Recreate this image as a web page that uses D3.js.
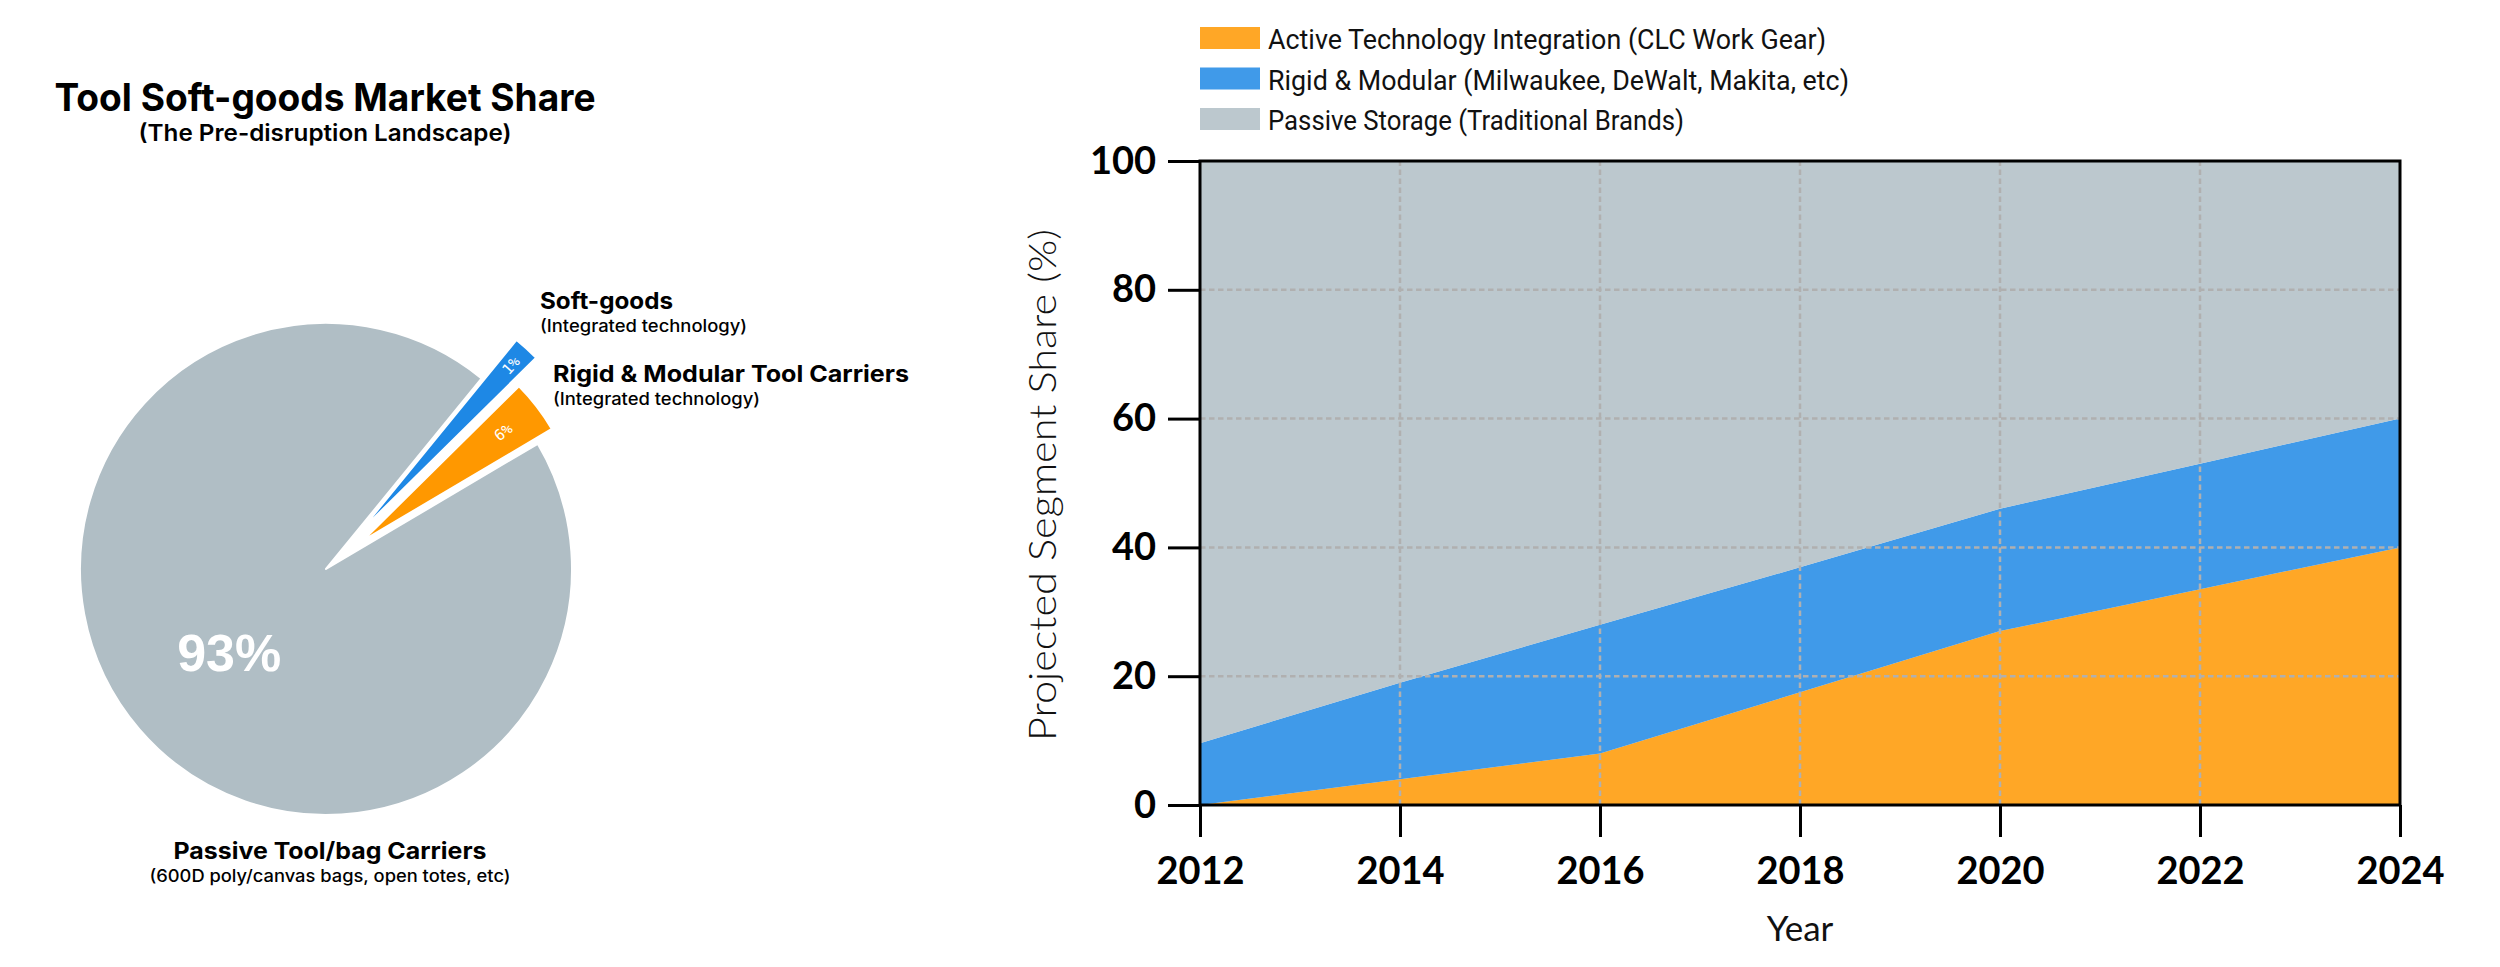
<!DOCTYPE html>
<html>
<head>
<meta charset="utf-8">
<script src="https://cdn.jsdelivr.net/npm/d3@7"></script>
<style>
  body { margin: 0; background: #fff; }
  svg { display: block; }
</style>
</head>
<body>
<script>
// pie (left)
var pieCategories = ['Passive Tool/bag Carriers', 'Soft-goods', 'Rigid & Modular Tool Carriers'];
var pieNotes = ['(600D poly/canvas bags, open totes, etc)', '(Integrated technology)', '(Integrated technology)'];
var pieShares = [94.4, 1.7, 3.9];          // wedge sizes as drawn
var pieLabels = ['93%', '1%', '6%'];       // printed percentages
var pieColors = ['#b0bec5', '#1e88e5', '#ff9800'];

// stacked area (right)
var years = [2012, 2014, 2016, 2018, 2020, 2022, 2024];
var activeShare = [0, 4, 8, 17.5, 27, 33.5, 40];
var rigidShare = [9.6, 15, 20, 19.4, 19, 19.5, 20];
var passiveShare = years.map(function(d, i) { return 100 - activeShare[i] - rigidShare[i]; });
var seriesKeys = ['active', 'rigid', 'passive'];
var seriesNames = ['Active Technology Integration (CLC Work Gear)',
                   'Rigid & Modular (Milwaukee, DeWalt, Makita, etc)',
                   'Passive Storage (Traditional Brands)'];
var seriesColors = ['#ff9800', '#1e88e5', '#b0bec5'];
var yTicks = [0, 20, 40, 60, 80, 100];
var xTicks = [2012, 2014, 2016, 2018, 2020, 2022, 2024];

var W = 2500, H = 967;
var svg = d3.select('body').append('svg')
    .attr('width', W)
    .attr('height', H);

var deg = Math.PI / 180;

// ---------- pie ----------
var cx = 326, cy = 569;
var explode = [0, 50, 46],
    radius = [246, 248, 220],
    labelR = [125, 225, 178];

var pie = d3.pie().sort(null).value(function(d) { return d; })
    .startAngle(-300.6 * deg)
    .endAngle(-300.6 * deg + 2 * Math.PI);
var slices = pie(pieShares);

var pg = svg.append('g').attr('transform', 'translate(' + [cx, cy] + ')');

slices.forEach(function(s, i) {
    var mid = (s.startAngle + s.endAngle) / 2,
        dx = Math.sin(mid) * explode[i],
        dy = -Math.cos(mid) * explode[i];
    var arc = d3.arc().innerRadius(0).outerRadius(radius[i]);
    var g = pg.append('g').attr('transform', 'translate(' + [dx, dy] + ')');
    g.append('path')
        .attr('d', arc(s))
        .attr('fill', pieColors[i])
        .attr('stroke', '#fff')
        .attr('stroke-width', 2)
        .attr('stroke-linejoin', 'round');

    var lx = Math.sin(mid) * labelR[i],
        ly = -Math.cos(mid) * labelR[i];
    var t = g.append('text')
        .attr('text-anchor', 'middle')
        .attr('dominant-baseline', 'central')
        .attr('fill', '#fff')
        .text(pieLabels[i]);
    if (i === 0) {
        t.attr('transform', 'translate(' + [lx - 2, ly + 3] + ')')
            .attr('font-family', 'Liberation Sans, Arial, sans-serif')
            .attr('font-weight', 'bold')
            .attr('font-size', 52);
    } else {
        var rot = (mid / deg) - 90;
        t.attr('transform', 'translate(' + [lx, ly] + ') rotate(' + rot + ')')
            .attr('font-family', 'DejaVu Sans Mono, monospace')
            .attr('font-size', 15);
    }
});

var titleFont = 'Inter, Roboto, sans-serif';
svg.append('text')
    .attr('x', 325).attr('y', 111)
    .attr('text-anchor', 'middle')
    .attr('font-family', titleFont).attr('font-weight', 700)
    .attr('font-size', 38)
    .attr('textLength', 541).attr('lengthAdjust', 'spacingAndGlyphs')
    .attr('fill', '#000')
    .text('Tool Soft-goods Market Share');
svg.append('text')
    .attr('x', 325).attr('y', 141)
    .attr('text-anchor', 'middle')
    .attr('font-family', titleFont).attr('font-weight', 600)
    .attr('font-size', 23)
    .attr('textLength', 373).attr('lengthAdjust', 'spacingAndGlyphs')
    .attr('fill', '#000')
    .text('(The Pre-disruption Landscape)');

// outside labels: [x, y, anchor, name width, note width]
var outer = [
    [330, 859, 'middle', 313, 361],
    [540, 309, 'start', 133, 207],
    [553, 382, 'start', 356, 207]
];
outer.forEach(function(o, i) {
    svg.append('text')
        .attr('x', o[0]).attr('y', o[1])
        .attr('text-anchor', o[2])
        .attr('font-family', titleFont).attr('font-weight', 700)
        .attr('font-size', 23)
        .attr('textLength', o[3]).attr('lengthAdjust', 'spacingAndGlyphs')
        .attr('fill', '#000')
        .text(pieCategories[i]);
    svg.append('text')
        .attr('x', o[0]).attr('y', o[1] + 23)
        .attr('text-anchor', o[2])
        .attr('font-family', titleFont).attr('font-weight', 500)
        .attr('font-size', 17)
        .attr('textLength', o[4]).attr('lengthAdjust', 'spacingAndGlyphs')
        .attr('fill', '#000')
        .text(pieNotes[i]);
});

// ---------- stacked area ----------
var x = d3.scaleLinear().domain([2012, 2024]).range([1200, 2400]);
var y = d3.scaleLinear().domain([0, 100]).range([805, 161]);

var table = years.map(function(yr, i) {
    return { year: yr, active: activeShare[i], rigid: rigidShare[i], passive: passiveShare[i] };
});
var stack = d3.stack().keys(seriesKeys)(table);

var area = d3.area()
    .x(function(d) { return x(d.data.year); })
    .y0(function(d) { return y(d[0]); })
    .y1(function(d) { return y(d[1]); });

var plot = svg.append('g');
plot.selectAll('path.layer')
    .data(stack)
    .enter().append('path')
    .attr('class', 'layer')
    .attr('d', area)
    .attr('fill', function(d, i) { return seriesColors[i]; })
    .attr('fill-opacity', 0.85);

// grid
plot.selectAll('line.gx')
    .data(xTicks.slice(1, -1))
    .enter().append('line')
    .attr('x1', x).attr('x2', x)
    .attr('y1', y(0)).attr('y2', y(100))
    .attr('stroke', '#b0b0b0').attr('stroke-width', 2.5)
    .attr('stroke-dasharray', '5.5,3.5');
plot.selectAll('line.gy')
    .data(yTicks.slice(1, -1))
    .enter().append('line')
    .attr('x1', x(2012)).attr('x2', x(2024))
    .attr('y1', y).attr('y2', y)
    .attr('stroke', '#b0b0b0').attr('stroke-width', 2.5)
    .attr('stroke-dasharray', '5.5,3.5');

// frame
svg.append('rect')
    .attr('x', x(2012)).attr('y', y(100))
    .attr('width', x(2024) - x(2012))
    .attr('height', y(0) - y(100))
    .attr('fill', 'none')
    .attr('stroke', '#000')
    .attr('stroke-width', 3);

var tickFont = 'Lato, Roboto, sans-serif';
var xAxis = svg.append('g')
    .attr('transform', 'translate(0,' + y(0) + ')')
    .call(d3.axisBottom(x).tickValues(xTicks).tickFormat(d3.format('d'))
        .tickSize(32).tickPadding(20));
var yAxis = svg.append('g')
    .attr('transform', 'translate(' + x(2012) + ',0)')
    .call(d3.axisLeft(y).tickValues(yTicks).tickSize(32).tickPadding(12));

[xAxis, yAxis].forEach(function(a) {
    a.select('.domain').remove();
    a.selectAll('.tick line').attr('stroke', '#000').attr('stroke-width', 3);
    a.selectAll('.tick text')
        .attr('fill', '#000')
        .attr('font-family', tickFont)
        .attr('font-weight', 700)
        .attr('font-size', 38);
});

svg.append('text')
    .attr('x', 1800).attr('y', 941)
    .attr('text-anchor', 'middle')
    .attr('font-family', tickFont)
    .attr('font-size', 35)
    .attr('fill', '#111')
    .text('Year');

svg.append('text')
    .attr('transform', 'translate(1056,485) rotate(-90)')
    .attr('text-anchor', 'middle')
    .attr('font-family', tickFont).attr('font-weight', 300)
    .attr('font-size', 37)
    .attr('textLength', 512).attr('lengthAdjust', 'spacingAndGlyphs')
    .attr('fill', '#111')
    .text('Projected Segment Share (%)');

// legend
var legendW = [558, 581, 416];
var lg = svg.append('g');
seriesNames.forEach(function(name, i) {
    var ly = 27 + i * 40.5;
    lg.append('rect')
        .attr('x', 1200).attr('y', ly)
        .attr('width', 60).attr('height', 22)
        .attr('fill', seriesColors[i])
        .attr('fill-opacity', 0.85);
    lg.append('text')
        .attr('x', 1268).attr('y', ly + 22)
        .attr('font-family', 'Roboto, sans-serif')
        .attr('font-size', 27)
        .attr('textLength', legendW[i]).attr('lengthAdjust', 'spacingAndGlyphs')
        .attr('fill', '#111')
        .text(name);
});
</script>
</body>
</html>
